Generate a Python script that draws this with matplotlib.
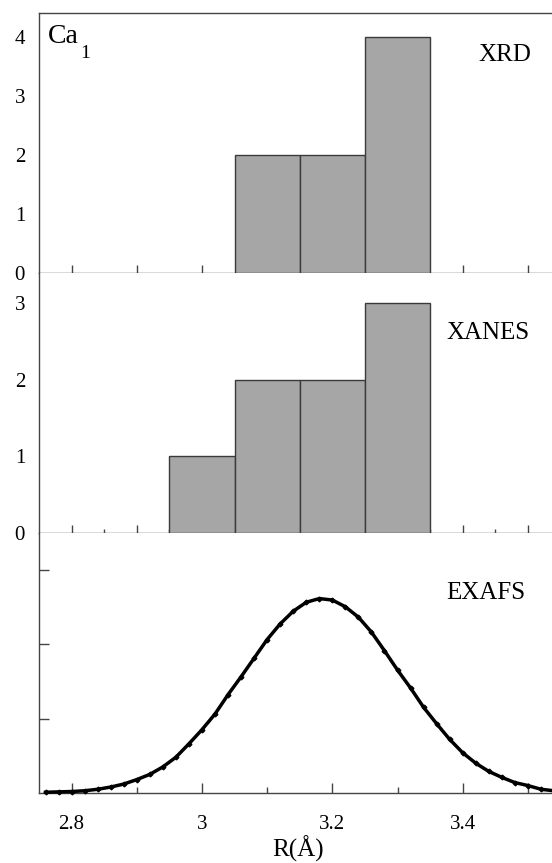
import matplotlib
matplotlib.use("Agg")
import matplotlib.pyplot as plt
from matplotlib.ticker import FixedLocator, FixedFormatter

plt.rcParams['font.family'] = ['Liberation Serif', 'DejaVu Serif']

# ---- data ----
xrd_left = [3.05, 3.15, 3.25]
xrd_counts = [2, 2, 4]
xanes_left = [2.95, 3.05, 3.15, 3.25]
xanes_counts = [1, 2, 2, 3]
bin_width = 0.1

exafs_r = [2.76, 2.78, 2.80, 2.82, 2.84, 2.86, 2.88, 2.90, 2.92, 2.94,
           2.96, 2.98, 3.00, 3.02, 3.04, 3.06, 3.08, 3.10, 3.12, 3.14,
           3.16, 3.18, 3.20, 3.22, 3.24, 3.26, 3.28, 3.30, 3.32, 3.34,
           3.36, 3.38, 3.40, 3.42, 3.44, 3.46, 3.48, 3.50, 3.52, 3.54]
exafs_val = [0.01, 0.015, 0.02, 0.03, 0.05, 0.08, 0.12, 0.18, 0.25, 0.35,
             0.48, 0.66, 0.85, 1.06, 1.32, 1.56, 1.81, 2.06, 2.27, 2.44,
             2.56, 2.61, 2.59, 2.50, 2.36, 2.16, 1.91, 1.65, 1.41, 1.15,
             0.93, 0.72, 0.54, 0.40, 0.29, 0.21, 0.14, 0.10, 0.05, 0.03]

x_major = [2.8, 2.9, 3.0, 3.1, 3.2, 3.3, 3.4, 3.5]
x_labels = ['2.8', '3', '3.2', '3.4']

W, H = 552, 863
fig = plt.figure(figsize=(W / 100, H / 100), dpi=100)

def fy(p):
    return 1 - p / H

left = 39 / W
width = 1.0 - left
ax1 = fig.add_axes([left, fy(273), width, (273 - 13) / H])
ax2 = fig.add_axes([left, fy(533), width, (533 - 273) / H])
ax3 = fig.add_axes([left, fy(793), width, (793 - 533) / H])

spine_c = '#444444'
bar_fc = '#a6a6a6'
bar_ec = '#3a3a3a'

for ax in (ax1, ax2, ax3):
    ax.set_xlim(2.75, 3.537)
    ax.spines['right'].set_visible(False)
    ax.spines['top'].set_visible(False)
    for s in ('left', 'bottom', 'top'):
        ax.spines[s].set_color(spine_c)
        ax.spines[s].set_linewidth(1.0)
    ax.xaxis.set_major_locator(FixedLocator(x_major))
    ax.tick_params(axis='x', which='both', direction='in', color=spine_c,
                   width=1.0, labelbottom=False)
    ax.tick_params(axis='x', which='major', length=6)
    ax.tick_params(axis='x', which='minor', length=3)
    ax.tick_params(axis='y', labelsize=15, length=0, pad=10)

# top panel
ax1.spines['top'].set_visible(True)
ax1.bar(xrd_left, xrd_counts, width=bin_width, align='edge',
        color=bar_fc, edgecolor=bar_ec, linewidth=1.0, zorder=3)
ax1.set_ylim(0, 4.41)
ax1.set_yticks([0, 1, 2, 3, 4])
ax1.set_yticklabels(['0', '1', '2', '3', '4'])

# middle panel
ax2.bar(xanes_left, xanes_counts, width=bin_width, align='edge',
        color=bar_fc, edgecolor=bar_ec, linewidth=1.0, zorder=3)
ax2.set_ylim(0, 3.39)
ax2.set_yticks([0, 1, 2, 3])
ax2.set_yticklabels(['0', '1', '2', '3'])
ax2.xaxis.set_minor_locator(FixedLocator([2.85, 2.95, 3.05, 3.15, 3.25, 3.35, 3.45]))

# bottom panel
ax3.plot(exafs_r, exafs_val, color='black', linewidth=2.5, marker='D',
         markersize=2.4, clip_on=False, zorder=4)
ax3.set_ylim(0, 3.49)
ax3.set_yticks([1, 2, 3])
ax3.tick_params(axis='y', labelleft=False, direction='in', length=7,
                width=1.0, color=spine_c)
ax3.xaxis.set_major_locator(FixedLocator([2.8, 3.0, 3.2, 3.4, 3.5]))
ax3.xaxis.set_major_formatter(FixedFormatter(x_labels + ['']))
ax3.xaxis.set_minor_locator(FixedLocator([2.9, 3.1, 3.3]))
ax3.tick_params(axis='x', which='major', length=7, labelbottom=True,
                labelsize=15, pad=16)
ax3.tick_params(axis='x', which='minor', length=4)

# texts
fig.text(48 / W, fy(43), 'Ca', fontsize=20, va='baseline', ha='left')
fig.text(80 / W, fy(58), '1', fontsize=14, va='baseline', ha='left')
fig.text(478 / W, fy(61), 'XRD', fontsize=18, va='baseline', ha='left')
fig.text(446 / W, fy(339), 'XANES', fontsize=18, va='baseline', ha='left')
fig.text(446 / W, fy(599), 'EXAFS', fontsize=18, va='baseline', ha='left')
fig.text(298 / W, fy(857), 'R(Å)', fontsize=18, va='baseline', ha='center')

fig.savefig('out.png', dpi=100)
